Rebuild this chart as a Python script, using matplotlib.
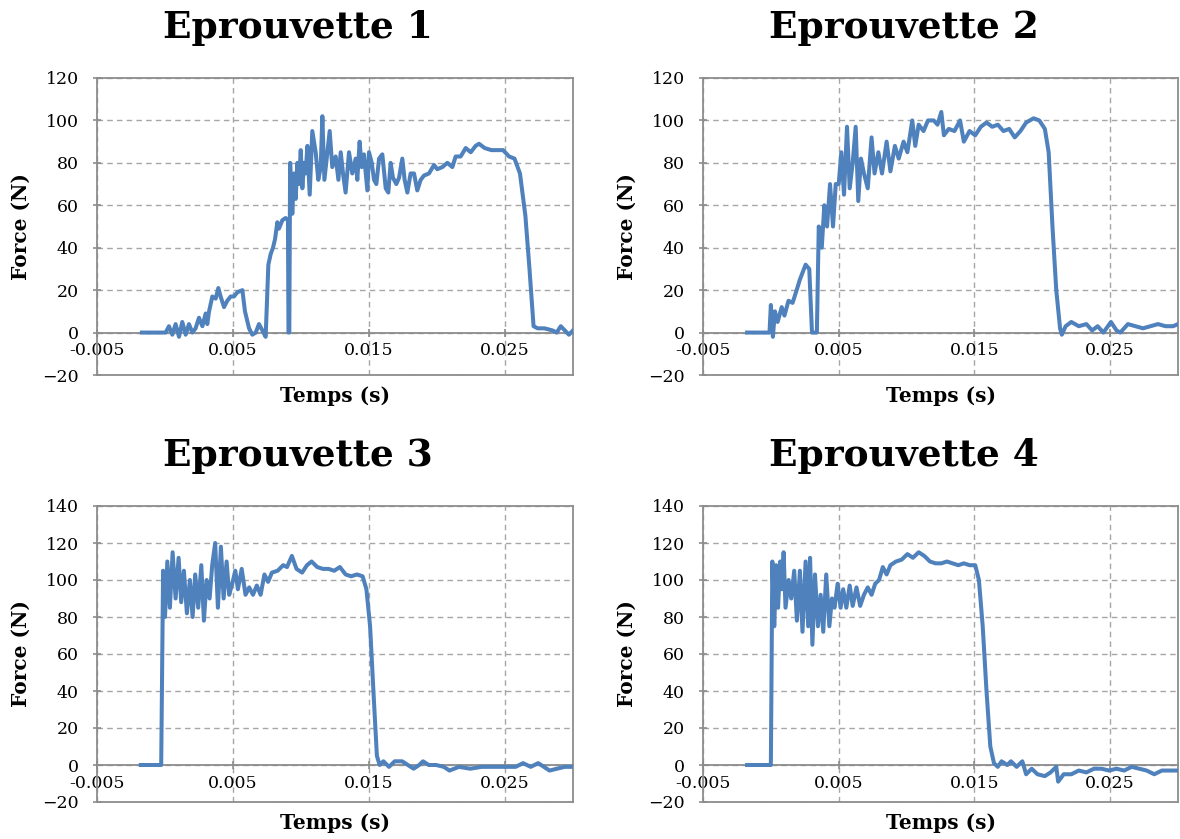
import numpy as np
import matplotlib
matplotlib.use("Agg")
import matplotlib.pyplot as plt

# -- data (time in ms, force in N) --------------------------------------------
t1_ms = [-1.7, 0.0, 0.05, 0.29, 0.54, 0.78, 1.03, 1.27, 1.52, 1.76,
         2.01, 2.25, 2.50, 2.75, 2.99, 3.11, 3.24, 3.48, 3.73, 3.92,
         4.09, 4.34, 4.58, 4.83, 5.07, 5.32, 5.69, 5.88, 6.18, 6.42,
         6.67, 6.91, 7.16, 7.40, 7.60, 7.77, 7.94, 8.09, 8.26, 8.38,
         8.63, 8.87, 9.04, 9.08, 9.14, 9.20, 9.36, 9.49, 9.61, 9.73,
         9.85, 9.98, 10.10, 10.22, 10.34, 10.47, 10.64, 10.83, 11.08, 11.27,
         11.45, 11.57, 11.72, 11.94, 12.11, 12.30, 12.55, 12.75, 12.92, 13.09,
         13.28, 13.53, 13.77, 14.02, 14.14, 14.31, 14.46, 14.63, 14.88, 15.00,
         15.20, 15.37, 15.54, 15.74, 15.98, 16.23, 16.42, 16.59, 16.76, 17.01,
         17.21, 17.45, 17.62, 17.82, 18.06, 18.31, 18.55, 18.80, 19.04, 19.41,
         19.78, 20.02, 20.39, 20.76, 21.13, 21.37, 21.74, 22.11, 22.48, 22.84,
         23.09, 23.5, 24.0, 24.4, 24.86, 25.3, 25.7, 26.1, 26.5, 26.8,
         27.1, 27.4, 27.9, 28.5, 28.8, 29.1, 29.4, 29.7, 30.0]
f1 = [0, 0, 0, 3, -1, 4, -2, 5, -1, 4,
      0, 2, 7, 3, 9, 4, 10, 17, 16, 21,
      17, 12, 15, 17, 17, 19, 20, 10, 2, -1,
      0, 4, 1, -2, 32, 37, 40, 44, 52, 49,
      53, 54, 53, 0, 0, 80, 56, 75, 63, 80,
      70, 86, 68, 80, 75, 88, 65, 95, 85, 72,
      78, 102, 72, 85, 95, 78, 83, 72, 85, 75,
      66, 85, 75, 82, 72, 90, 78, 84, 67, 85,
      80, 72, 70, 82, 84, 68, 66, 80, 73, 70,
      73, 82, 72, 66, 75, 75, 67, 72, 74, 75,
      79, 77, 78, 80, 78, 83, 83, 87, 85, 88,
      89, 87, 86, 86, 86, 83, 82, 75, 55, 30,
      3, 2, 2, 1, 0, 3, 1, -1, 1]

t2_ms = [-1.75, -0.1, 0.0, 0.15, 0.3, 0.5, 0.8, 1.0, 1.3, 1.6, 1.9, 2.14, 2.56, 2.83,
         3.03, 3.39, 3.53, 3.75, 3.94, 4.14, 4.36, 4.58, 4.78, 5.0, 5.19, 5.39,
         5.61, 5.81, 6.03, 6.25, 6.44, 6.64, 6.86, 7.14, 7.42, 7.64, 7.92, 8.19,
         8.53, 8.81, 9.14, 9.42, 9.78, 10.06, 10.42, 10.64, 10.89, 11.25, 11.58,
         12.0, 12.28, 12.56, 12.75, 13.11, 13.53, 13.94, 14.22, 14.64, 15.06,
         15.47, 15.89, 16.31, 16.72, 17.14, 17.56, 17.97, 18.39, 18.81, 19.36,
         19.78, 20.19, 20.47, 20.75, 21.03, 21.31, 21.44, 21.72, 22.14, 22.69,
         23.25, 23.67, 24.08, 24.5, 25.06, 25.47, 25.75, 26.31, 26.86, 27.42,
         27.97, 28.53, 29.08, 29.64, 30.0]
f2 = [0, 0, 13, -2, 10, 5, 12, 8, 15, 14, 20, 25, 32, 30,
      0, 0, 50, 40, 60, 50, 70, 50, 70, 70, 85, 65,
      97, 68, 80, 97, 62, 82, 75, 68, 92, 75, 85, 75,
      90, 76, 88, 82, 90, 85, 100, 88, 98, 95, 100,
      100, 98, 104, 93, 96, 95, 100, 90, 95, 93,
      97, 99, 97, 98, 95, 96, 92, 95, 99, 101,
      100, 96, 85, 50, 20, 2, -1, 3, 5, 3,
      4, 1, 3, 0, 5, 1, 0, 4, 3, 2,
      3, 4, 3, 3, 4]

t3_ms = [-1.78, -0.28, -0.14, 0.0, 0.17, 0.36, 0.56, 0.78, 1.0, 1.19, 1.39, 1.61,
         1.83, 2.03, 2.22, 2.44, 2.67, 2.86, 3.06, 3.28, 3.47, 3.69, 3.89, 4.11,
         4.31, 4.53, 4.72, 4.94, 5.17, 5.36, 5.64, 5.92, 6.19, 6.47, 6.75, 7.03,
         7.31, 7.58, 7.86, 8.28, 8.69, 8.97, 9.33, 9.67, 10.08, 10.44, 10.78,
         11.19, 11.61, 12.03, 12.44, 12.86, 13.28, 13.69, 14.11, 14.53, 14.81,
         15.08, 15.36, 15.58, 15.78, 16.06, 16.47, 16.89, 17.44, 17.86, 18.28,
         18.69, 18.97, 19.39, 19.94, 20.5, 20.92, 21.61, 22.44, 23.28, 24.11,
         24.94, 25.78, 26.33, 26.89, 27.44, 27.86, 28.28, 28.83, 29.39, 30.0]
f3 = [0, 0, 105, 80, 110, 85, 115, 90, 112, 88, 105, 82,
      100, 80, 103, 85, 108, 78, 100, 90, 108, 120, 85, 118,
      90, 110, 92, 98, 105, 95, 106, 92, 96, 92, 97, 92,
      103, 99, 104, 105, 108, 107, 113, 106, 104, 108, 110,
      107, 106, 106, 105, 107, 103, 102, 103, 102, 95,
      75, 35, 5, 0, 2, -1, 2, 2, 0, -2,
      0, 2, 0, 0, -1, -3, -1, -2, -1, -1,
      -1, -1, 1, -1, 1, -1, -3, -2, -1, -1]

t4_ms = [-1.75, 0.0, 0.11, 0.25, 0.39, 0.53, 0.69, 0.81, 0.94, 1.08, 1.31, 1.5,
         1.72, 1.92, 2.14, 2.33, 2.56, 2.75, 2.89, 3.06, 3.25, 3.47, 3.67, 3.86,
         4.08, 4.31, 4.5, 4.69, 4.92, 5.14, 5.33, 5.56, 5.81, 6.03, 6.31, 6.58,
         6.86, 7.14, 7.42, 7.69, 7.97, 8.25, 8.53, 8.81, 9.22, 9.64, 10.06, 10.47,
         10.89, 11.31, 11.72, 12.14, 12.56, 12.97, 13.39, 13.81, 14.22, 14.64,
         15.06, 15.33, 15.61, 15.89, 16.17, 16.44, 16.72, 17.0, 17.42, 17.69,
         18.11, 18.53, 18.81, 19.22, 19.64, 20.19, 20.61, 21.03, 21.17, 21.58,
         22.14, 22.69, 23.25, 23.81, 24.36, 24.92, 25.47, 26.03, 26.58, 27.14,
         27.69, 28.25, 28.81, 29.5, 30.0]
f4 = [0, 0, 110, 75, 108, 85, 110, 95, 115, 85, 100, 90,
      105, 78, 105, 72, 110, 75, 112, 65, 103, 75, 92, 72,
      103, 75, 90, 85, 98, 85, 95, 85, 97, 86, 96, 86,
      92, 96, 92, 98, 100, 107, 103, 108, 110, 111, 114, 112,
      115, 113, 110, 109, 109, 110, 109, 108, 109, 108,
      108, 100, 75, 40, 10, 1, -1, 2, 0, 2,
      -1, 2, -5, -2, -5, -6, -4, -1, -9, -5,
      -5, -3, -4, -2, -2, -3, -2, -3, -1, -2,
      -3, -5, -3, -3, -3]

titles = ["Eprouvette 1", "Eprouvette 2", "Eprouvette 3", "Eprouvette 4"]
ymax = [120, 120, 140, 140]
xticks = [-0.005, 0.005, 0.015, 0.025]
xticklabels = ["-0.005", "0.005", "0.015", "0.025"]

# -- style --------------------------------------------------------------------
W, H = 1180, 839
BLUE = "#4F81BD"
AXC = "#8C8C8C"
GRIDC = "#A6A6A6"
SERIF = "DejaVu Serif"

fig = plt.figure(figsize=(W / 100, H / 100), dpi=100)

# axes boxes in pixels: left, top, right, bottom
boxes = [(97, 78, 573, 375), (703, 78, 1178, 375),
         (97, 506, 573, 802), (703, 506, 1178, 802)]
series = [(t1_ms, f1), (t2_ms, f2), (t3_ms, f3), (t4_ms, f4)]

for i, ((l, t, r, b), (tm, f)) in enumerate(zip(boxes, series)):
    ax = fig.add_axes([l / W, 1 - b / H, (r - l) / W, (b - t) / H])
    ax.set_xlim(-0.005, 0.030)
    ax.set_ylim(-20, ymax[i])
    ax.set_yticks(np.arange(-20, ymax[i] + 1, 20))
    ax.set_xticks(xticks)
    ax.set_xticklabels(xticklabels)

    ax.grid(True, color=GRIDC, linestyle=(0, (4, 3)), linewidth=1.0)
    ax.set_axisbelow(True)

    for s in ax.spines.values():
        s.set_color(AXC)
        s.set_linewidth(1.3)
    # horizontal axis crosses at 0, like in Excel
    ax.spines["bottom"].set_position(("data", 0))
    # bottom border of the plot area
    ax.plot([0, 1], [0, 0], transform=ax.transAxes, color=AXC, lw=1.3,
            clip_on=False, zorder=3)

    ax.tick_params(axis="both", direction="inout", length=6, width=1.2,
                   color=AXC, labelsize=12.5, labelcolor="black")
    ax.tick_params(axis="y", pad=10)
    ax.tick_params(axis="x", pad=4)
    for lab in ax.get_xticklabels() + ax.get_yticklabels():
        lab.set_family(SERIF)

    t_s = np.array(tm) / 1000.0
    ax.plot(t_s, f, color=BLUE, lw=2.9, solid_joinstyle="round", zorder=4)

    # titles and axis labels, placed like in the Excel export
    cx = (l + r) / 2
    fig.text((cx - 37) / W, 1 - (t - 50) / H, titles[i], ha="center",
             va="center", fontsize=27, fontweight="bold", family=SERIF)
    fig.text(cx / W, 1 - (b + 21) / H, "Temps (s)", ha="center", va="center",
             fontsize=14.5, fontweight="bold", family=SERIF)
    fig.text((l - 76) / W, 1 - ((t + b) / 2) / H, "Force (N)", ha="center",
             va="center", rotation=90, fontsize=14.5, fontweight="bold",
             family=SERIF)

fig.savefig("out.png", dpi=100)
